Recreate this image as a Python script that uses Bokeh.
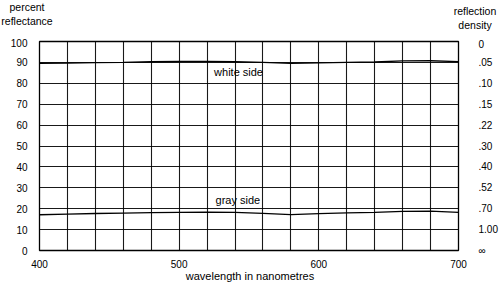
from bokeh.plotting import figure
from bokeh.models import Range1d, LinearAxis, FixedTicker, Label, Div
from bokeh.layouts import column
from bokeh.embed import file_html
from bokeh.resources import INLINE

wavelength = [400, 420, 440, 460, 480, 500, 520, 540, 560, 580, 600, 620, 640, 660, 680, 700]
white_side = [89.6, 89.7, 89.9, 90.0, 90.3, 90.5, 90.5, 90.3, 90.0, 89.5, 89.8, 90.0, 90.2, 90.7, 90.8, 90.4]
gray_side = [17.1, 17.4, 17.7, 17.9, 18.1, 18.2, 18.3, 18.2, 17.8, 17.2, 17.6, 18.0, 18.2, 18.7, 18.8, 18.2]

x_ticks = [400, 500, 600, 700]
x_grid = list(range(400, 701, 20))
y_ticks = list(range(0, 101, 10))
density_labels = ["∞", "1.00", ".70", ".52", ".40", ".30", ".22", ".15", ".10", ".05", "0"]
left_title = ["percent", "reflectance"]
right_title = ["reflection", "density"]
x_title = "wavelength in nanometres"

FONT = "Liberation Sans"

# header with the two axis titles
header_html = (
    '<div style="position:relative;width:500px;height:38px;color:black;'
    f'font-family:\'{FONT}\';font-size:10.5px;line-height:13.5px;">'
    '<div style="position:absolute;left:0px;top:1px;width:54px;text-align:center;">'
    f'{left_title[0]}<br>{left_title[1]}</div>'
    '<div style="position:absolute;left:450px;top:5px;width:50px;text-align:center;">'
    f'{right_title[0]}<br>{right_title[1]}</div>'
    '</div>'
)
header = Div(text=header_html, width=500, height=38, margin=0)

# main chart
p = figure(width=500, height=234, output_backend="svg", toolbar_location=None,
           x_range=Range1d(400, 700), y_range=Range1d(0, 100),
           min_border_left=39, min_border_right=42, min_border_top=3, min_border_bottom=22,
           margin=0)
p.background_fill_color = "white"
p.border_fill_color = "white"
p.outline_line_color = "black"
p.outline_line_width = 1.3

p.extra_y_ranges = {"d": Range1d(0, 100)}

p.xaxis.ticker = FixedTicker(ticks=x_ticks)
p.yaxis.ticker = FixedTicker(ticks=y_ticks)
for ax in [p.xaxis[0], p.yaxis[0]]:
    ax.axis_line_color = None
    ax.major_tick_line_color = None
    ax.minor_tick_line_color = None
    ax.major_label_text_font = FONT
    ax.major_label_text_font_size = "10px"
    ax.major_label_text_color = "black"
p.yaxis.major_label_standoff = 6
p.xaxis.major_label_standoff = 3

raxis = LinearAxis(y_range_name="d", ticker=FixedTicker(ticks=y_ticks),
                   major_label_overrides={t: s for t, s in zip(y_ticks, density_labels)})
raxis.axis_line_color = None
raxis.major_tick_line_color = None
raxis.minor_tick_line_color = None
raxis.major_label_text_font = FONT
raxis.major_label_text_font_size = "10px"
raxis.major_label_text_color = "black"
raxis.major_label_text_align = "center"
raxis.major_label_standoff = 14
p.add_layout(raxis, "right")

p.xgrid.ticker = FixedTicker(ticks=x_grid)
p.ygrid.ticker = FixedTicker(ticks=y_ticks)
for g in [p.xgrid[0], p.ygrid[0]]:
    g.grid_line_color = "black"
    g.grid_line_width = 1.1
    g.grid_line_alpha = 0.9

p.line(wavelength, white_side, line_color="black", line_width=1.3)
p.line(wavelength, gray_side, line_color="black", line_width=1.3)


def lab(fig, x, y, text, size="11px"):
    fig.add_layout(Label(x=x, y=y, text=text, text_align="center", text_baseline="middle",
                         text_font=FONT, text_font_size=size, text_color="black"))


lab(p, 542.5, 85.6, "white side")
lab(p, 542, 24.3, "gray side")

# footer with the x-axis title
footer_html = (
    f'<div style="position:relative;top:-4px;width:500px;height:13px;text-align:center;color:black;'
    f'font-family:\'{FONT}\';font-size:11px;line-height:11px;">{x_title}</div>'
)
footer = Div(text=footer_html, width=500, height=13, margin=0)

layout = column(header, p, footer, spacing=0)
open("out.html", "w").write(file_html(layout, INLINE))
